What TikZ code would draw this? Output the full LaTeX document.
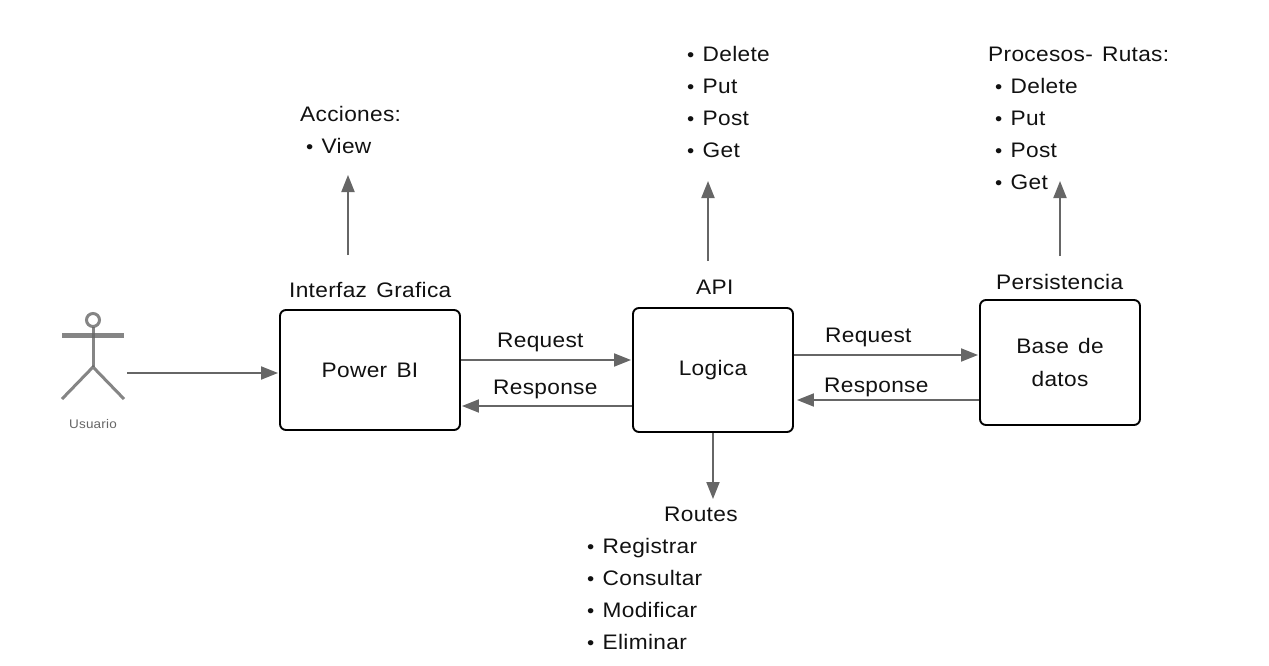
\documentclass[tikz,border=0pt]{standalone}
\usepackage{fontspec}
\setmainfont[LetterSpace=1.5,FakeStretch=1.08,WordSpace=1.4]{Liberation Sans}
\usetikzlibrary{arrows.meta}
\definecolor{linegray}{HTML}{666666}
\definecolor{ink}{HTML}{111111}
\newcommand{\bl}[1]{\makebox[15.5pt][l]{\raisebox{0pt}{\fontsize{19}{19}\selectfont •}}#1}
\tikzset{
  x=1pt,y=-1pt,
  boxnode/.style={draw=black,line width=1.9pt,rounded corners=6pt,inner sep=0pt,align=center,font=\fontsize{21}{33}\selectfont,text=ink},
  txt/.style={anchor=base west,inner sep=0pt,font=\fontsize{21}{25}\selectfont,text=ink},
  conn/.style={draw=linegray,line width=1.9pt,-{Triangle[length=17pt,width=13pt,color=linegray]}},
  limb/.style={draw=linegray,line width=3pt,opacity=.8}
}
\begin{document}
\begin{tikzpicture}
\useasboundingbox (0,0) rectangle (1269,665);
% boxes
\node[boxnode,minimum width=180pt,minimum height=120pt] (pb) at (370,370) {\raisebox{-1pt}{Power BI}};
\node[boxnode,minimum width=160pt,minimum height=124pt] (lo) at (713,370) {\raisebox{-3pt}{Logica}};
\node[boxnode,minimum width=160pt,minimum height=125pt] (db) at (1060,362.5) {Base de\\datos};
% box titles
\node[txt] (t1) at (289,297) {Interfaz Grafica};
\node[txt] (t2) at (696,294) {API};
\node[txt] (t3) at (996,289) {Persistencia};
% arrow labels
\node[txt] (l1) at (497,347) {Request};
\node[txt] (l2) at (493,394) {Response};
\node[txt] (l3) at (825,342) {Request};
\node[txt] (l4) at (824,392) {Response};
% lists
\node[txt] (a0) at (300,121) {Acciones:};
\node[txt] (a1) at (306,153) {\bl{View}};
\node[txt] (b1) at (687,61) {\bl{Delete}};
\node[txt] (b2) at (687,93) {\bl{Put}};
\node[txt] (b3) at (687,125) {\bl{Post}};
\node[txt] (b4) at (687,157) {\bl{Get}};
\node[txt] (c0) at (988,61) {Procesos- Rutas:};
\node[txt] (c1) at (995,93) {\bl{Delete}};
\node[txt] (c2) at (995,125) {\bl{Put}};
\node[txt] (c3) at (995,157) {\bl{Post}};
\node[txt] (c4) at (995,189) {\bl{Get}};
\node[txt] (d0) at (664,521) {Routes};
\node[txt] (d1) at (587,553) {\bl{Registrar}};
\node[txt] (d2) at (587,585) {\bl{Consultar}};
\node[txt] (d3) at (587,617) {\bl{Modificar}};
\node[txt] (d4) at (587,649) {\bl{Eliminar}};
% actor
\coordinate (head) at (93,320);
\coordinate (neck) at (93,327);
\coordinate (hip) at (93,367);
\draw[limb] (head) circle (6.5pt);
\draw[limb,line width=5pt] (62,335) -- (124,335);
\draw[limb] (neck) -- (hip);
\draw[limb] (62,399) -- (hip) -- (124,399);
\node[anchor=center,inner sep=0pt,text=linegray,font=\fontsize{12.5}{14}\selectfont] (ulabel) at (93,424) {Usuario};
% connector anchors
\coordinate (ua) at (127,373);
\coordinate (pbw) at (pb.west |- ua);
\coordinate (u1) at (348,255);
\coordinate (u1t) at (348,175);
\coordinate (u2) at (708,261);
\coordinate (u2t) at (708,181);
\coordinate (u3) at (1060,256);
\coordinate (u3t) at (1060,181);
\coordinate (downt) at (713,499);
\coordinate (r1) at (0,360);
\coordinate (r2) at (0,406);
\coordinate (r3) at (0,355);
\coordinate (r4) at (0,400);
% connectors
\draw[conn] (ua) -- ([xshift=-1pt]pbw);
\draw[conn] (pb.east |- r1) -- ([xshift=-1pt]lo.west |- r1);
\draw[conn] (lo.west |- r2) -- ([xshift=1pt]pb.east |- r2);
\draw[conn] (lo.east |- r3) -- ([xshift=-1pt]db.west |- r3);
\draw[conn] (db.west |- r4) -- ([xshift=3pt]lo.east |- r4);
\draw[conn] (u1) -- (u1t);
\draw[conn] (u2) -- (u2t);
\draw[conn] (u3) -- (u3t);
\draw[conn] (lo.south) -- (downt);
\end{tikzpicture}
\end{document}
